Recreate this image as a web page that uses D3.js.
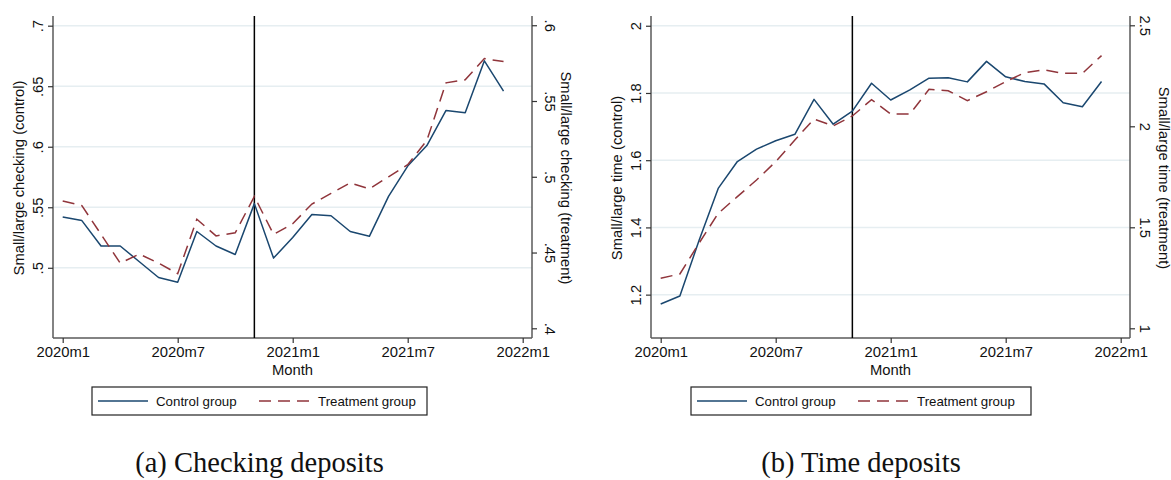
<!DOCTYPE html>
<html>
<head>
<meta charset="utf-8">
<script src="https://cdn.jsdelivr.net/npm/d3@7"></script>
<style>
  html, body { margin: 0; padding: 0; background: #fff; }
  svg { display: block; }
  text { font-family: "Liberation Sans", Arial, sans-serif; fill: #111; }
  .caption { font-family: "Liberation Serif", "DejaVu Serif", serif; }
</style>
</head>
<body>
<svg id="chart" width="1171" height="480"></svg>
<script>
// Months 2020m1 .. 2021m12 (index 0..23)
const months = d3.range(24).map(i => `${2020 + Math.floor(i / 12)}m${(i % 12) + 1}`);
const xTickIdx = [0, 6, 12, 18, 24];
const xTickLabels = ["2020m1", "2020m7", "2021m1", "2021m7", "2022m1"];
const eventIdx = 10; // 2020m11

// Small/large checking ratio
const checkingControl = [0.542, 0.539, 0.518, 0.518, 0.505, 0.492, 0.488, 0.530, 0.518, 0.511,
  0.553, 0.508, 0.525, 0.544, 0.543, 0.530, 0.526, 0.559, 0.584, 0.601, 0.630, 0.628, 0.671, 0.646];
const checkingTreatment = [0.484, 0.481, 0.462, 0.443, 0.449, 0.443, 0.436, 0.472, 0.461, 0.463,
  0.487, 0.462, 0.469, 0.482, 0.489, 0.496, 0.492, 0.500, 0.508, 0.524, 0.562, 0.564, 0.578, 0.576];

// Small/large time ratio
const timeControl = [1.172, 1.196, 1.361, 1.516, 1.596, 1.633, 1.658, 1.677, 1.781, 1.707,
  1.746, 1.829, 1.779, 1.809, 1.844, 1.845, 1.833, 1.894, 1.848, 1.834, 1.827, 1.771, 1.759, 1.834];
const timeTreatment = [1.248, 1.269, 1.421, 1.569, 1.652, 1.734, 1.825, 1.932, 2.036, 2.002,
  2.051, 2.132, 2.061, 2.061, 2.183, 2.176, 2.127, 2.171, 2.221, 2.266, 2.279, 2.262, 2.262, 2.350];

const checkingLeftTicks = [0.5, 0.55, 0.6, 0.65, 0.7];
const checkingRightTicks = [0.4, 0.45, 0.5, 0.55, 0.6];
const timeLeftTicks = [1.2, 1.4, 1.6, 1.8, 2];
const timeRightTicks = [1, 1.5, 2, 2.5];

const legendLabels = ["Control group", "Treatment group"];

const colors = { control: "#1a476f", treatment: "#90353b", grid: "#e6eef1", axis: "#5a5a5a" };
const fmtDot = v => { const s = d3.format("")(v); return s.startsWith("0.") ? s.slice(1) : s; };

const FS = 14.8;      // tick labels and axis titles
const FS_LEG = 13.3;  // legend labels

const svg = d3.select("#chart");

function panel(cfg) {
  const g = svg.append("g");
  const top = 16, bottom = 338;
  const x = d3.scaleLinear().domain([0, 24]).range([cfg.left + 9.7, cfg.right - 9.3]);
  const yL = d3.scaleLinear().domain(cfg.leftDomain).range([bottom, top]);
  const yR = d3.scaleLinear().domain(cfg.rightDomain).range([bottom, top]);

  // grid lines at left-axis ticks
  g.append("g").selectAll("line").data(cfg.leftTicks).join("line")
    .attr("x1", cfg.left).attr("x2", cfg.right)
    .attr("y1", d => yL(d)).attr("y2", d => yL(d))
    .attr("stroke", colors.grid).attr("stroke-width", 1.5);

  // left axis
  const ax = d3.axisLeft(yL).tickValues(cfg.leftTicks).tickFormat(cfg.fmt).tickSize(5).tickPadding(3);
  const gl = g.append("g").attr("transform", `translate(${cfg.left},0)`).call(ax);
  gl.select(".domain").attr("d", `M0,${top}V${bottom}`);
  gl.selectAll("text").attr("font-size", FS).attr("text-anchor", "middle")
    .attr("x", null).attr("dy", null)
    .attr("transform", `translate(${-15},0) rotate(-90)`).attr("dy", "0.35em");

  // right axis
  const axr = d3.axisRight(yR).tickValues(cfg.rightTicks).tickFormat(cfg.fmt).tickSize(5).tickPadding(3);
  const gr = g.append("g").attr("transform", `translate(${cfg.right},0)`).call(axr);
  gr.select(".domain").attr("d", `M0,${top}V${bottom}`);
  gr.selectAll("text").attr("font-size", FS).attr("text-anchor", "middle")
    .attr("x", null).attr("dy", null)
    .attr("transform", `translate(${cfg.rightLabelOff},0) rotate(90)`).attr("dy", "0.35em");

  // bottom axis
  const axb = d3.axisBottom(x).tickValues(xTickIdx).tickFormat((d, i) => xTickLabels[i]).tickSize(5).tickPadding(3);
  const gb = g.append("g").attr("transform", `translate(0,${bottom})`).call(axb);
  gb.select(".domain").attr("d", `M${cfg.left},0H${cfg.right}`);
  gb.selectAll("text").attr("font-size", FS);

  [gl, gr, gb].forEach(a => {
    a.select(".domain").attr("stroke", colors.axis).attr("stroke-width", 1.5);
    a.selectAll(".tick line").attr("stroke", "#333").attr("stroke-width", 1.2);
    a.selectAll("text").attr("fill", "#111").attr("font-family", "Liberation Sans, Arial, sans-serif");
  });

  // axis titles
  g.append("text").attr("font-size", FS).attr("text-anchor", "middle")
    .attr("transform", `translate(${cfg.left - 34},178) rotate(-90)`).attr("dy", "0.35em")
    .text(cfg.leftTitle);
  g.append("text").attr("font-size", FS).attr("text-anchor", "middle")
    .attr("transform", `translate(${cfg.right + 34},178) rotate(90)`).attr("dy", "0.35em")
    .text(cfg.rightTitle);
  g.append("text").attr("font-size", FS).attr("text-anchor", "middle")
    .attr("x", (cfg.left + cfg.right) / 2).attr("y", 375).text("Month");

  // event line
  g.append("line").attr("x1", x(eventIdx)).attr("x2", x(eventIdx))
    .attr("y1", top).attr("y2", bottom).attr("stroke", "#000").attr("stroke-width", 1.5);

  // series
  const lineL = d3.line().x((d, i) => x(i)).y(d => yL(d));
  const lineR = d3.line().x((d, i) => x(i)).y(d => yR(d));
  g.append("path").datum(cfg.control).attr("d", lineL).attr("fill", "none")
    .attr("stroke", colors.control).attr("stroke-width", 1.5).attr("stroke-linejoin", "round");
  g.append("path").datum(cfg.treatment).attr("d", lineR).attr("fill", "none")
    .attr("stroke", colors.treatment).attr("stroke-width", 1.5).attr("stroke-dasharray", "12,7");

  // legend
  const lg = g.append("g");
  const lx = cfg.legendX, ly = 387, lw = cfg.legendW, lh = 28;
  lg.append("rect").attr("x", lx).attr("y", ly).attr("width", lw).attr("height", lh)
    .attr("fill", "#fff").attr("stroke", "#222").attr("stroke-width", 1.2);
  const my = ly + lh / 2;
  lg.append("line").attr("x1", lx + 6).attr("x2", lx + 56).attr("y1", my).attr("y2", my)
    .attr("stroke", colors.control).attr("stroke-width", 1.5);
  lg.append("text").attr("x", lx + 64).attr("y", my).attr("dy", "0.35em").attr("font-size", FS_LEG)
    .text(legendLabels[0]);
  lg.append("line").attr("x1", lx + 167).attr("x2", lx + 218).attr("y1", my).attr("y2", my)
    .attr("stroke", colors.treatment).attr("stroke-width", 1.5).attr("stroke-dasharray", "12,7");
  lg.append("text").attr("x", lx + 226).attr("y", my).attr("dy", "0.35em").attr("font-size", FS_LEG)
    .text(legendLabels[1]);

  // caption
  g.append("text").attr("class", "caption").attr("text-anchor", "middle")
    .attr("x", lx + lw / 2).attr("y", 472).attr("font-size", 28.5).text(cfg.caption);
}

panel({
  left: 53, right: 532,
  leftDomain: [0.442, 0.708], rightDomain: [0.3936, 0.6061],
  leftTicks: checkingLeftTicks, rightTicks: checkingRightTicks, fmt: fmtDot,
  rightLabelOff: 18,
  leftTitle: "Small/large checking (control)", rightTitle: "Small/large checking (treatment)",
  control: checkingControl, treatment: checkingTreatment,
  legendX: 92, legendW: 335, caption: "(a) Checking deposits"
});

panel({
  left: 651, right: 1130,
  leftDomain: [1.071, 2.029], rightDomain: [0.952, 2.546],
  leftTicks: timeLeftTicks, rightTicks: timeRightTicks, fmt: d3.format(""),
  rightLabelOff: 15,
  leftTitle: "Small/large time (control)", rightTitle: "Small/large time (treatment)",
  control: timeControl, treatment: timeTreatment,
  legendX: 691, legendW: 340, caption: "(b) Time deposits"
});
</script>
</body>
</html>
